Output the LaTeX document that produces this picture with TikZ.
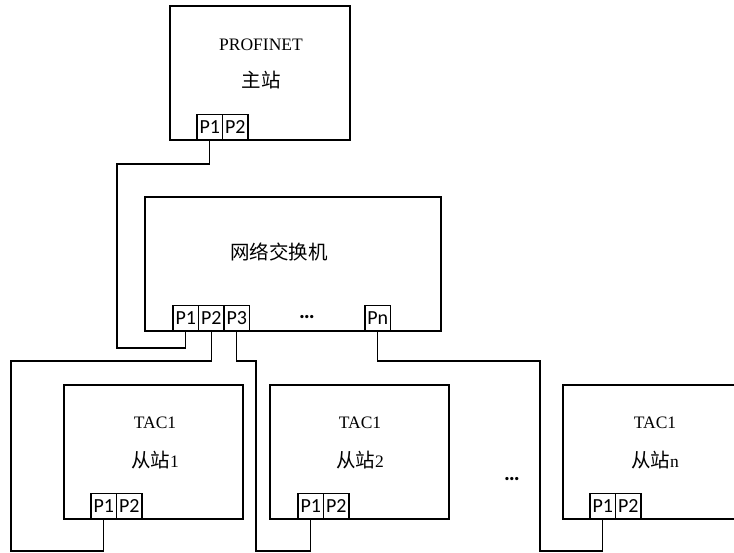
\documentclass[tikz,border=0pt]{standalone}
\usepackage{fontspec}
\setmainfont{Liberation Serif}
\newfontfamily\cjkfont{Noto Sans CJK SC}
\newfontfamily\portfont{Carlito}
\usetikzlibrary{positioning}
\newcommand{\cjktext}[1]{{\cjkfont\fontsize{19.5}{20}\selectfont #1}}
\tikzset{
  unit/.style={draw,line width=1.4pt,anchor=north west,inner sep=0pt,outer sep=0pt,minimum height=134pt},
  port/.style={draw,line width=1.4pt,fill=white,inner sep=0pt,outer sep=0pt,minimum width=25.5pt,minimum height=25.5pt,anchor=south west,font=\portfont\fontsize{20}{20}\selectfont},
  wire/.style={line width=1.4pt},
  latin/.style={font=\fontsize{17.5}{18}\selectfont},
  cjk/.style={font=\cjkfont\fontsize{19.5}{20}\selectfont},
  dots/.style={font=\portfont\bfseries\fontsize{22}{22}\selectfont}
}
\begin{document}
\begin{tikzpicture}[x=1pt,y=-1pt]
        \useasboundingbox (0,0) rectangle (734,553);
        \node[unit,minimum width=180pt] (master) at (170,6) {};
        \node[unit,minimum width=296pt] (switch) at (145,197) {};
        \node[unit,minimum width=179pt] (slave1) at (64,385) {};
        \node[unit,minimum width=179pt] (slave2) at (270,385) {};
        \node[unit,minimum width=184pt] (slaven) at (563,385) {};
        \node[latin] (mname) at (261,45) {PROFINET};
        \node[cjk] (mrole) at (261,80) {主站};
        \node[cjk] (swname) at (279,252) {网络交换机};
        \node[latin] (s1name) at (155,423) {TAC1};
        \node[latin] (s1role) at (155,460) {\cjktext{从站}1};
        \node[latin] (s2name) at (360,423) {TAC1};
        \node[latin] (s2role) at (360,460) {\cjktext{从站}2};
        \node[latin] (snname) at (655,423) {TAC1};
        \node[latin] (snrole) at (655,460) {\cjktext{从站}n};
        \node[port] (mp1) at (197,140) {P1};
        \node[port,right=0pt of mp1] (mp2) {P2};
        \node[port] (sp1) at (173,331) {P1};
        \node[port,right=0pt of sp1] (sp2) {P2};
        \node[port,right=0pt of sp2] (sp3) {P3};
        \node[port] (spn) at (365,331) {Pn};
        \node[dots] (swdots) at (307,317) {…};
        \node[port] (s1p1) at (91,519) {P1};
        \node[port,right=0pt of s1p1] (s1p2) {P2};
        \node[port] (s2p1) at (298,519) {P1};
        \node[port,right=0pt of s2p1] (s2p2) {P2};
        \node[port] (snp1) at (590,519) {P1};
        \node[port,right=0pt of snp1] (snp2) {P2};
        \node[dots] (sdots) at (512,479) {…};
        \draw[wire] (mp1.south) -- ++(0,24) -| (117,348) -| (sp1.south);
        \draw[wire] (sp2.south) -- ++(0,30) -| (11,551) -| (s1p1.south);
        \draw[wire] (sp3.south) -- ++(0,30) -| (256,551) -| (s2p1.south);
        \draw[wire] (spn.south) -- ++(0,30) -| (540,551) -| (snp1.south);
      \end{tikzpicture}
\end{document}
